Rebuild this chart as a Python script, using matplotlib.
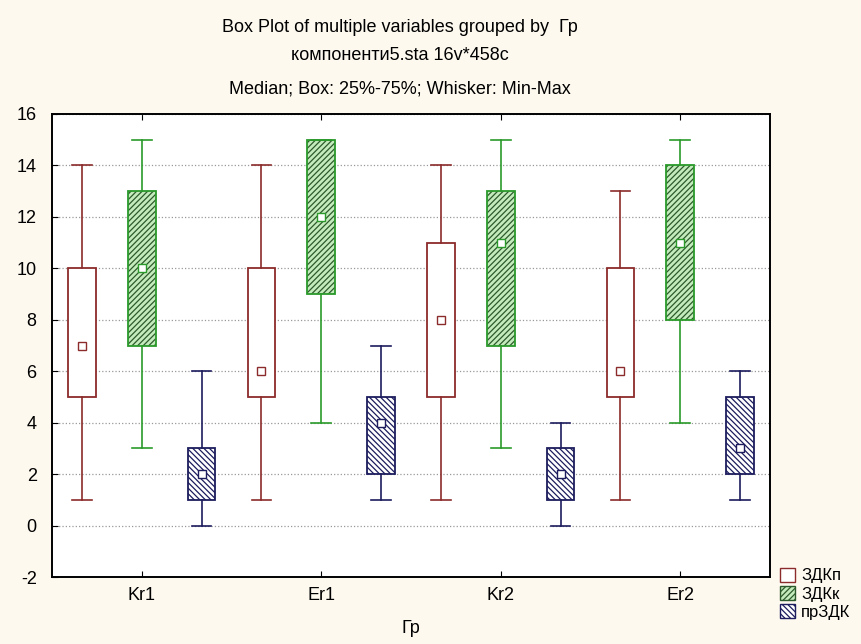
import matplotlib
matplotlib.use("Agg")
import matplotlib.pyplot as plt
from matplotlib.patches import Patch, PathPatch

plt.rcParams["font.family"] = ["Liberation Sans", "DejaVu Sans"]
plt.rcParams["hatch.linewidth"] = 0.9
plt.rcParams["axes.unicode_minus"] = False

groups = ["Kr1", "Er1", "Kr2", "Er2"]
series = ["ЗДКп", "ЗДКк", "прЗДК"]

# min, 25%, median, 75%, max per group
zdkp_min = [1, 1, 1, 1]
zdkp_q1 = [5, 5, 5, 5]
zdkp_med = [7, 6, 8, 6]
zdkp_q3 = [10, 10, 11, 10]
zdkp_max = [14, 14, 14, 13]

zdkk_min = [3, 4, 3, 4]
zdkk_q1 = [7, 9, 7, 8]
zdkk_med = [10, 12, 11, 11]
zdkk_q3 = [13, 15, 13, 14]
zdkk_max = [15, 15, 15, 15]

przdk_min = [0, 1, 0, 1]
przdk_q1 = [1, 2, 1, 2]
przdk_med = [2, 4, 2, 3]
przdk_q3 = [3, 5, 3, 5]
przdk_max = [6, 7, 4, 6]

STYLES = [
    # edge, fill, hatch colour, hatch
    ("#8c2b2b", "white", "#8c2b2b", None),
    ("#2a9a2a", "#c4ebbb", "#2d5a2d", "//////"),
    ("#1c1c5e", "white", "#1c1c5e", "\\\\\\\\\\\\"),
]
OFFSETS = [-1 / 3, 0.0, 1 / 3]
BG = "#fdf9ef"
FS = 13


def make_stats(mins, q1s, meds, q3s, maxs):
    return [
        {"whislo": lo, "q1": a, "med": m, "mean": m, "q3": b, "whishi": hi, "fliers": []}
        for lo, a, m, b, hi in zip(mins, q1s, meds, q3s, maxs)
    ]


all_stats = [
    make_stats(zdkp_min, zdkp_q1, zdkp_med, zdkp_q3, zdkp_max),
    make_stats(zdkk_min, zdkk_q1, zdkk_med, zdkk_q3, zdkk_max),
    make_stats(przdk_min, przdk_q1, przdk_med, przdk_q3, przdk_max),
]

fig = plt.figure(figsize=(8.61, 6.44), dpi=100, facecolor=BG)
ax = fig.add_axes([52 / 861, 1 - 577 / 644, (770 - 52) / 861, (577 - 114) / 644])
ax.set_facecolor("white")

base = list(range(1, len(groups) + 1))
for stats, off, (edge, fill, hcol, hatch) in zip(all_stats, OFFSETS, STYLES):
    pos = [b + off for b in base]
    res = ax.bxp(
        stats,
        positions=pos,
        widths=0.155,
        patch_artist=True,
        showmeans=True,
        meanline=False,
        showfliers=False,
        boxprops=dict(edgecolor=hcol, facecolor=fill, linewidth=0),
        whiskerprops=dict(color=edge, linewidth=1.2),
        capprops=dict(color=edge, linewidth=1.2),
        capwidths=0.11,
        medianprops=dict(linestyle="none"),
        meanprops=dict(marker="s", markersize=6, markerfacecolor="white",
                       markeredgecolor=edge, markeredgewidth=1.0, zorder=4),
        manage_ticks=False,
    )
    for box in res["boxes"]:
        if hatch:
            box.set_hatch(hatch)
        # outline drawn separately so the hatch can keep its own colour
        ax.add_patch(PathPatch(box.get_path(), transform=box.get_transform(),
                               fill=False, edgecolor=edge, linewidth=1.3, zorder=3))

ax.set_xlim(0.5, 4.5)
ax.set_ylim(-2, 16)
ax.set_yticks(range(-2, 17, 2))
ax.set_xticks(base)
ax.set_xticklabels(groups)
ax.tick_params(axis="both", direction="in", length=4, labelsize=FS, top=True, right=False)
ax.tick_params(axis="x", pad=7)
ax.tick_params(axis="y", pad=11)
ax.grid(True, axis="y", linestyle=":", color="#999999", linewidth=0.9)
ax.set_axisbelow(True)
for sp in ax.spines.values():
    sp.set_linewidth(1.4)
ax.set_xlabel("Гр", fontsize=FS, labelpad=12)

fig.text(400 / 861, 1 - 28 / 644, "Box Plot of multiple variables grouped by  Гр",
         ha="center", va="center", fontsize=FS)
fig.text(400 / 861, 1 - 56 / 644, "компоненти5.sta 16v*458c",
         ha="center", va="center", fontsize=FS)
fig.text(400 / 861, 1 - 89 / 644, "Median; Box: 25%-75%; Whisker: Min-Max",
         ha="center", va="center", fontsize=FS)

handles = [
    Patch(facecolor=fill, edgecolor=hcol, hatch=hatch, label=name)
    for name, (edge, fill, hcol, hatch) in zip(series, STYLES)
]
fig.legend(handles=handles, loc="upper left", bbox_to_anchor=(778 / 861, 1 - 566 / 644),
           frameon=False, fontsize=12, handlelength=0.9, handleheight=0.9,
           handletextpad=0.4, labelspacing=0.15, borderaxespad=0, borderpad=0.1)

fig.savefig("out.png", dpi=100, facecolor=BG)
